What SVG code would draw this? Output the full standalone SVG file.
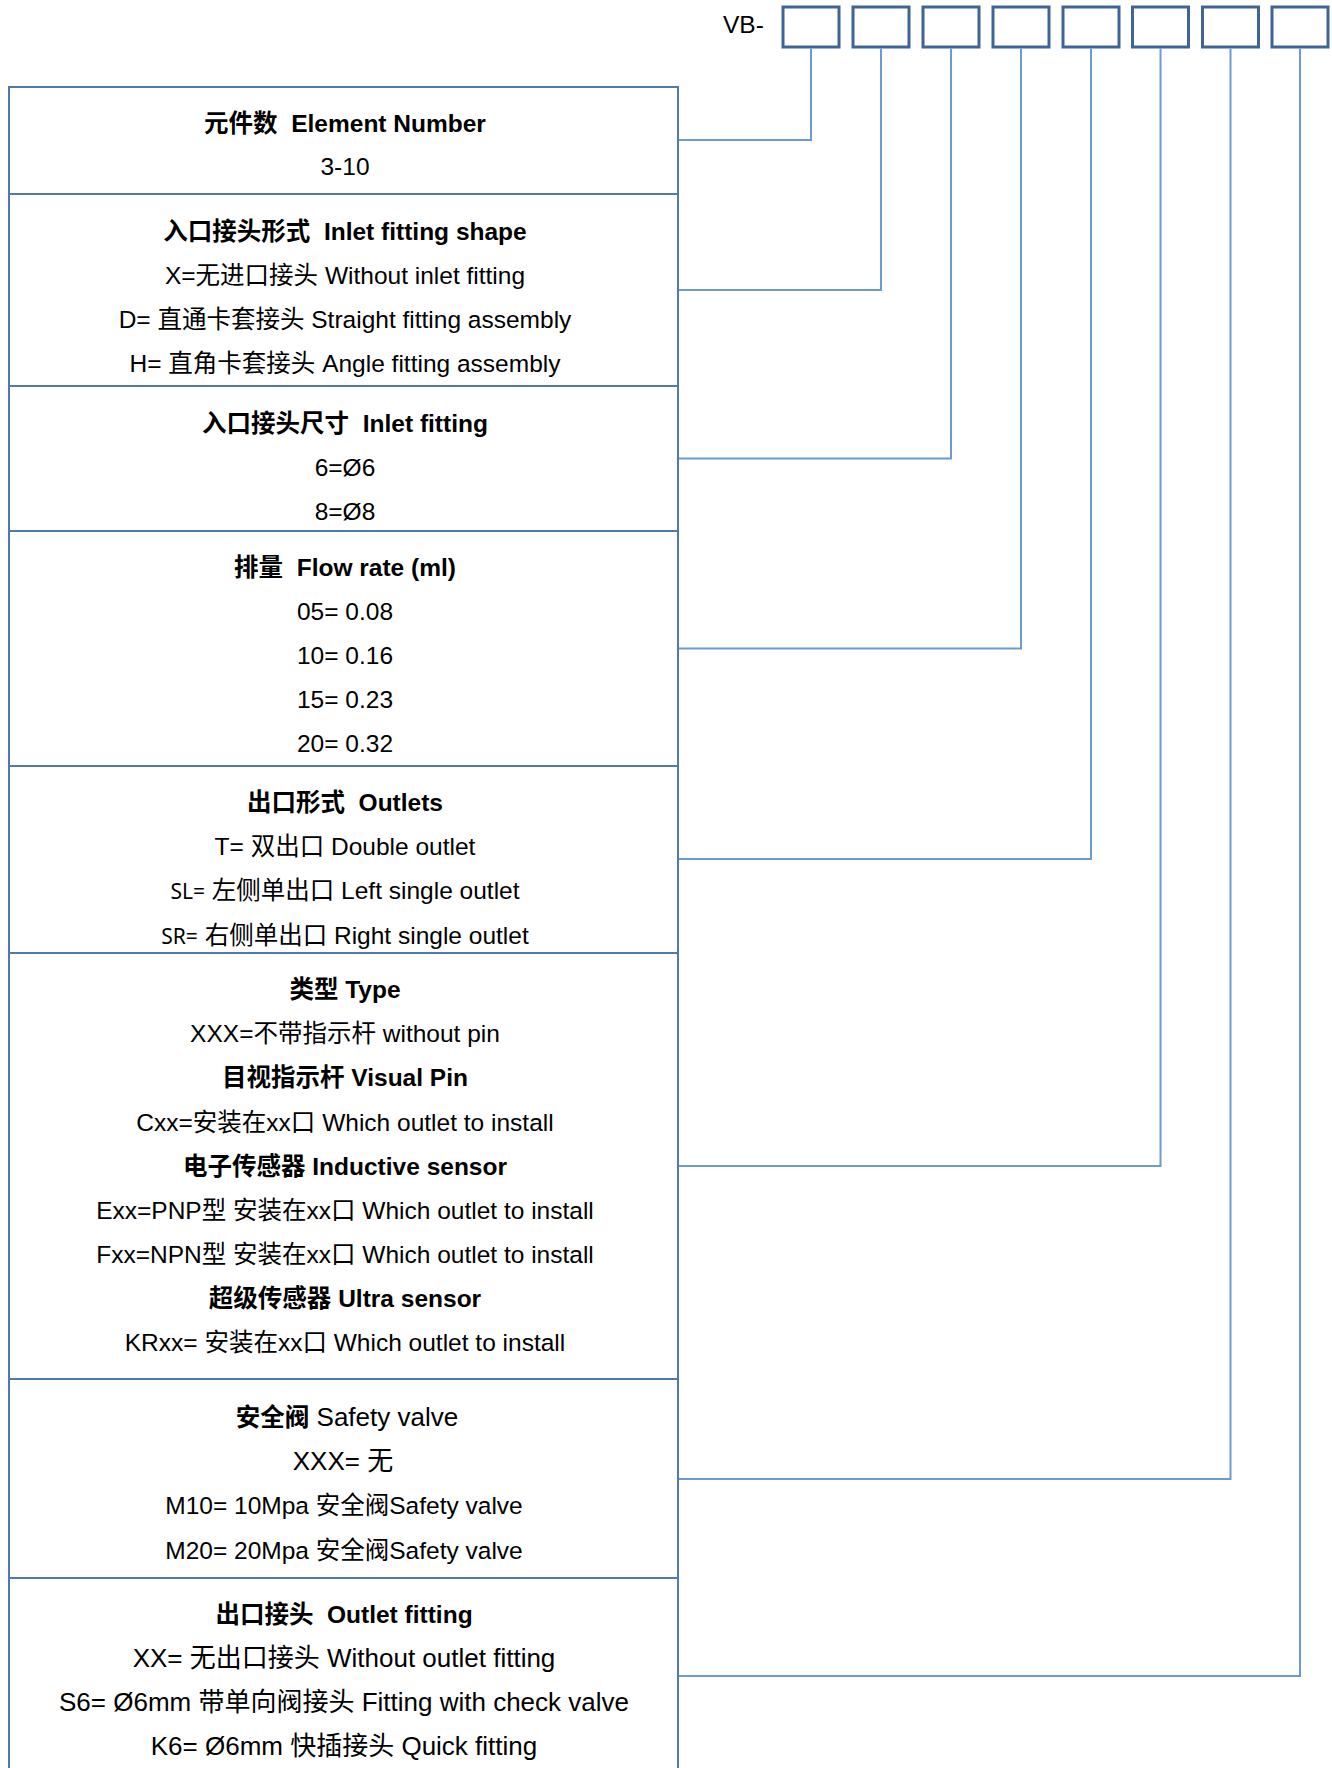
<svg xmlns="http://www.w3.org/2000/svg" width="1332" height="1768" viewBox="0 0 1332 1768">
<style>
.t{font-family:"Liberation Sans","Noto Sans CJK SC",sans-serif;font-size:24.5px;fill:#000;text-anchor:middle}
.b{font-weight:bold}
.l{font-size:26px}
.s{font-family:"Noto Sans","Noto Sans CJK SC",sans-serif;font-size:21px}
.box{fill:#fff;stroke:#3f6596;stroke-width:3}
.row{fill:#fff;stroke:#5178b0;stroke-width:2}
.conn{fill:none;stroke:#6c9ad2;stroke-width:2}
</style>
<rect width="1332" height="1768" fill="#fff"/>
<g id="code">
<text class="t" x="723" y="33" style="text-anchor:start">VB-</text>
<rect class="box" x="783" y="7" width="56" height="40"/>
<rect class="box" x="853" y="7" width="56" height="40"/>
<rect class="box" x="923" y="7" width="56" height="40"/>
<rect class="box" x="993" y="7" width="56" height="40"/>
<rect class="box" x="1063" y="7" width="56" height="40"/>
<rect class="box" x="1132.5" y="7" width="56" height="40"/>
<rect class="box" x="1202.5" y="7" width="56" height="40"/>
<rect class="box" x="1272" y="7" width="56" height="40"/>
</g>
<g id="connectors">
<path class="conn" d="M811,48.5 V140 H678"/>
<path class="conn" d="M881,48.5 V290 H678"/>
<path class="conn" d="M951,48.5 V458.5 H678"/>
<path class="conn" d="M1021,48.5 V648.5 H678"/>
<path class="conn" d="M1091,48.5 V859 H678"/>
<path class="conn" d="M1160.5,48.5 V1166 H678"/>
<path class="conn" d="M1230.5,48.5 V1479 H678"/>
<path class="conn" d="M1300,48.5 V1676 H678"/>
</g>
<g id="element-number">
<rect class="row" x="9" y="87" width="669" height="107"/>
<text class="t b" x="345" y="132">元件数&#160; Element Number</text>
<text class="t" x="345" y="175">3-10</text>
</g>
<g id="inlet-shape">
<rect class="row" x="9" y="194" width="669" height="192"/>
<text class="t b" x="345" y="240">入口接头形式&#160; Inlet fitting shape</text>
<text class="t" x="345" y="284">X=无进口接头 Without inlet fitting</text>
<text class="t" x="345" y="328">D= 直通卡套接头 Straight fitting assembly</text>
<text class="t" x="345" y="372">H= 直角卡套接头 Angle fitting assembly</text>
</g>
<g id="inlet-size">
<rect class="row" x="9" y="386" width="669" height="145"/>
<text class="t b" x="345" y="432">入口接头尺寸&#160; Inlet fitting</text>
<text class="t" x="345" y="476">6=Ø6</text>
<text class="t" x="345" y="520">8=Ø8</text>
</g>
<g id="flow-rate">
<rect class="row" x="9" y="531" width="669" height="235"/>
<text class="t b" x="345" y="576">排量&#160; Flow rate (ml)</text>
<text class="t" x="345" y="620">05= 0.08</text>
<text class="t" x="345" y="664">10= 0.16</text>
<text class="t" x="345" y="708">15= 0.23</text>
<text class="t" x="345" y="752">20= 0.32</text>
</g>
<g id="outlets">
<rect class="row" x="9" y="766" width="669" height="187"/>
<text class="t b" x="345" y="811">出口形式&#160; Outlets</text>
<text class="t" x="345" y="855">T= 双出口 Double outlet</text>
<text class="t" x="345" y="899"><tspan class="s">SL=</tspan> 左侧单出口 Left single outlet</text>
<text class="t" x="345" y="944"><tspan class="s">SR=</tspan> 右侧单出口 Right single outlet</text>
</g>
<g id="type">
<rect class="row" x="9" y="953" width="669" height="426"/>
<text class="t b" x="345" y="998">类型 Type</text>
<text class="t" x="345" y="1042">XXX=不带指示杆 without pin</text>
<text class="t b" x="345" y="1086">目视指示杆 Visual Pin</text>
<text class="t" x="345" y="1131">Cxx=安装在xx口 Which outlet to install</text>
<text class="t b" x="345" y="1175">电子传感器 Inductive sensor</text>
<text class="t" x="345" y="1219">Exx=PNP型 安装在xx口 Which outlet to install</text>
<text class="t" x="345" y="1263">Fxx=NPN型 安装在xx口 Which outlet to install</text>
<text class="t b" x="345" y="1307">超级传感器 Ultra sensor</text>
<text class="t" x="345" y="1351">KRxx= 安装在xx口 Which outlet to install</text>
</g>
<g id="safety-valve">
<rect class="row" x="9" y="1379" width="669" height="199"/>
<text class="t" x="347" y="1426"><tspan class="b">安全阀</tspan><tspan class="l"> Safety valve</tspan></text>
<text class="t l" x="343" y="1470">XXX= 无</text>
<text class="t" x="344" y="1514">M10= 10Mpa 安全阀Safety valve</text>
<text class="t" x="344" y="1559">M20= 20Mpa 安全阀Safety valve</text>
</g>
<g id="outlet-fitting">
<rect class="row" x="9" y="1578" width="669" height="210"/>
<text class="t b" x="344" y="1623">出口接头&#160; Outlet fitting</text>
<text class="t l" x="344" y="1667">XX= 无出口接头 Without outlet fitting</text>
<text class="t l" x="344" y="1711">S6= Ø6mm 带单向阀接头 Fitting with check valve</text>
<text class="t l" x="344" y="1755">K6= Ø6mm 快插接头 Quick fitting</text>
</g>
</svg>
